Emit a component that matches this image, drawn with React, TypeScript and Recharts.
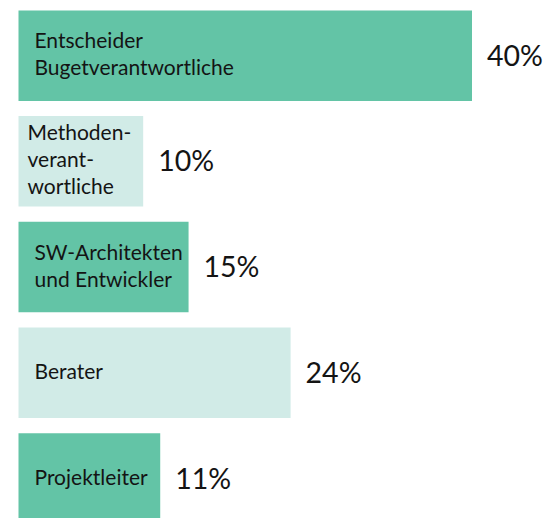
import { BarChart, Bar, XAxis, YAxis, Cell, LabelList } from "recharts";

const categories = [
    "Entscheider\nBugetverantwortliche",
    "Methoden-\nverant-\nwortliche",
    "SW-Architekten\nund Entwickler",
    "Berater",
    "Projektleiter",
];

// bar lengths as drawn (in %)
const values = [40, 11, 15, 24, 12.5];

// printed labels
const valueLabels = ["40%", "10%", "15%", "24%", "11%"];

const colors = ["#63C4A6", "#D1EBE7", "#63C4A6", "#D1EBE7", "#63C4A6"];

const data = categories.map((name, i) => ({
    name,
    value: values[i],
    label: valueLabels[i],
}));

const InsideLabel = (props: any) => {
    const { x, y, width, height, index } = props;
    const lines = categories[index].split("\n");
    const lh = 27;
    const pad = width < 130 ? 9 : 16;
    const cy = y + height / 2 + 6;
    return (
        <text x={x + pad} y={cy} fill="#141414" fontSize={21} fontFamily="Lato">
            {lines.map((l, i) => (
                <tspan key={i} x={x + pad} y={cy + (i - (lines.length - 1) / 2) * lh}>
                    {l}
                </tspan>
            ))}
        </text>
    );
};

const ValueLabel = (props: any) => {
    const { x, y, width, height, index } = props;
    return (
        <text x={x + width + 15} y={y + height / 2 + 10} fill="#141414" fontSize={28.5} fontFamily="Lato">
            {valueLabels[index]}
        </text>
    );
};

export default function App() {
    return (
        <div style={{ position: "absolute", top: 0, left: 0, width: 548, height: 518, overflow: "hidden", background: "#fff" }}>
            <BarChart
                width={548}
                height={531}
                data={data}
                layout="vertical"
                margin={{ top: 2.4, right: 76, left: 18.5, bottom: 0 }}
            >
                <XAxis type="number" hide domain={[0, 40]} />
                <YAxis type="category" dataKey="name" hide width={0} />
                <Bar dataKey="value" barSize={90.5} isAnimationActive={false}>
                    {data.map((d, i) => (
                        <Cell key={d.name} fill={colors[i]} />
                    ))}
                    <LabelList dataKey="name" content={InsideLabel} />
                    <LabelList dataKey="label" content={ValueLabel} />
                </Bar>
            </BarChart>
        </div>
    );
}
